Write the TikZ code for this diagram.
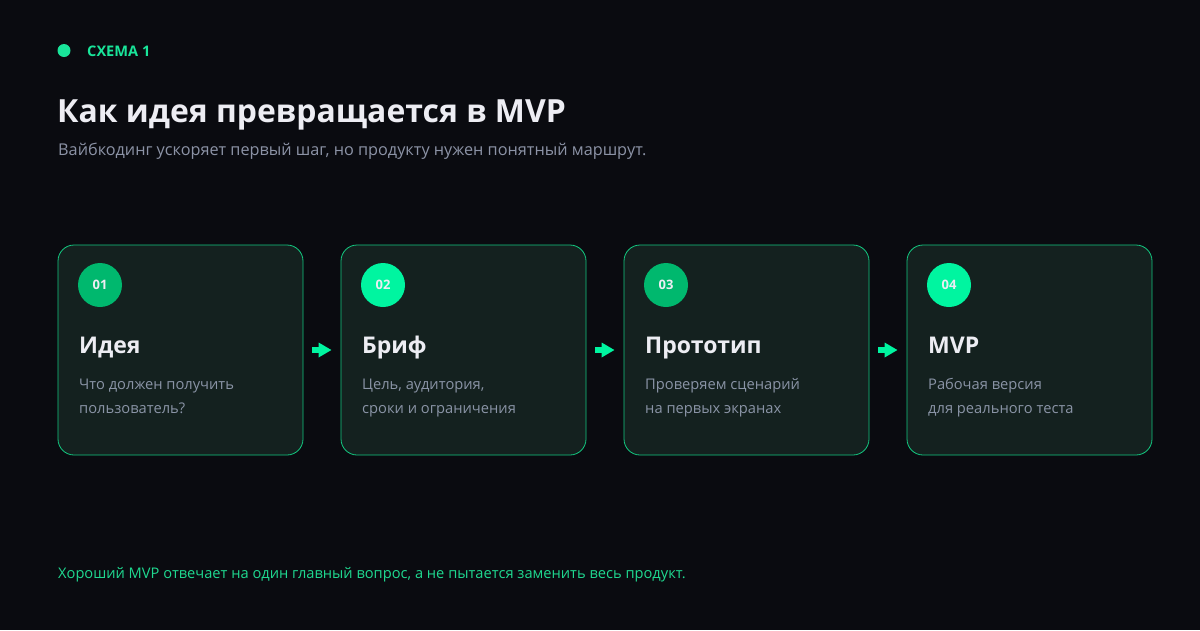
\documentclass[tikz,border=0pt]{standalone}
\usepackage{fontspec}
\setmainfont{Open Sans}
\usetikzlibrary{arrows.meta,calc}
\definecolor{bg}{HTML}{0A0B10}
\definecolor{cardfill}{HTML}{14211F}
\definecolor{cardborder}{HTML}{13C880}
\definecolor{brightg}{HTML}{00F5A0}
\definecolor{darkg}{HTML}{00B86E}
\definecolor{titlew}{HTML}{EDEDF3}
\definecolor{descg}{HTML}{8A94A6}
\definecolor{subg}{HTML}{8C93A6}
\definecolor{accent}{HTML}{19E59A}
\definecolor{foot}{HTML}{1FD990}
\tikzset{
  card/.style={draw=cardborder, line width=0.8pt, fill=cardfill, rounded corners=16pt,
    minimum width=245pt, minimum height=210pt, inner sep=0pt},
  badge/.style={circle, minimum size=44pt, inner sep=0pt, text=titlew,
    font=\bfseries\fontsize{13}{15}\selectfont},
  ctitle/.style={anchor=base west, inner sep=0pt, text=titlew, font=\bfseries\fontsize{23}{28}\selectfont},
  cdesc/.style={anchor=base west, inner sep=0pt, text=descg, font=\fontsize{14.7}{24}\selectfont, align=left},
  flow/.style={draw=brightg, line width=6pt, shorten <=9pt, shorten >=9pt,
    -{Triangle[length=13pt,width=14pt]}},
}
\begin{document}
\begin{tikzpicture}[x=1pt,y=1pt]
\useasboundingbox (0,0) rectangle (1200,-630);
\fill[bg] (0,0) rectangle (1200,-630);
% header
\node[circle, fill=accent, minimum size=13pt, inner sep=0pt] (dot) at (64,-50.5) {};
\node[anchor=base west, inner sep=0pt, text=accent, font=\bfseries\fontsize{14.6}{17}\selectfont] (kicker) at (87,-56) {СХЕМА 1};
\node[anchor=base west, inner sep=0pt, text=titlew, font=\bfseries\fontsize{31.9}{38}\selectfont] (title) at (57,-122) {Как идея превращается в MVP};
\node[anchor=base west, inner sep=0pt, text=subg, font=\fontsize{16.25}{19}\selectfont] (sub) at (58,-155) {Вайбкодинг ускоряет первый шаг, но продукту нужен понятный маршрут.};
% cards
\foreach \i/\x/\col/\num/\ttl/\da/\db in {
  1/58/darkg/01/Идея/Что должен получить/пользователь?,
  2/341/brightg/02/Бриф/{Цель, аудитория,}/сроки и ограничения,
  3/624/darkg/03/Прототип/Проверяем сценарий/на первых экранах,
  4/907/brightg/04/MVP/Рабочая версия/для реального теста}{
  \node[card] (c\i) at (\x+122.5,-350) {};
  \node[badge, fill=\col] (b\i) at (\x+42,-285) {\num};
  \node[ctitle] (t\i) at (\x+21,-353) {\ttl};
  \node[cdesc] (d\i) at (\x+21,-389) {\da};
  \node[cdesc] (e\i) at (\x+21,-413) {\db};
}
\draw[flow] (c1.east) -- (c2.west);
\draw[flow] (c2.east) -- (c3.west);
\draw[flow] (c3.east) -- (c4.west);
% footer
\node[anchor=base west, inner sep=0pt, text=foot, font=\fontsize{14.65}{18}\selectfont] (footer) at (58,-578) {Хороший MVP отвечает на один главный вопрос, а не пытается заменить весь продукт.};
\end{tikzpicture}
\end{document}
